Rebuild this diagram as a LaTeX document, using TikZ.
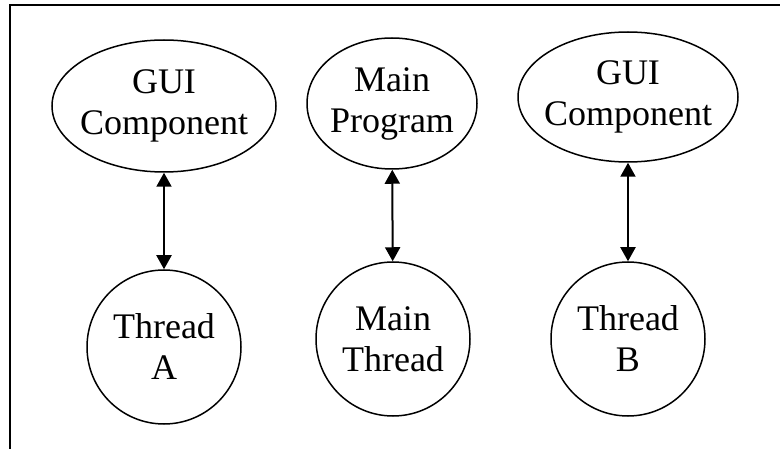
\documentclass[tikz,border=0pt]{standalone}
\usepackage{fontspec}
\setmainfont{Liberation Serif}
\usetikzlibrary{shapes.geometric,arrows.meta}
\tikzset{
 comp/.style={draw,ellipse,line width=1.5pt,inner xsep=-10pt,inner ysep=0pt,align=center},
 thr/.style={draw,circle,line width=1.5pt,minimum size=154pt,inner sep=0pt,align=center},
 link/.style={line width=2pt,{Triangle[length=14pt,width=15pt]}-{Triangle[length=14pt,width=15pt]}}
}
\begin{document}
\begin{tikzpicture}[x=1pt,y=-1pt,font=\fontsize{36}{41}\selectfont]
\useasboundingbox (0,0) rectangle (780,449);
% frame, cut off at the right and bottom
\draw[line width=1.8pt] (10,450)--(10,5)--(781,5);
% upper row
\node[comp,minimum width=224pt,minimum height=132pt] (guiA) at (164,106) {GUI\\Component};
\node[comp,minimum width=170pt,minimum height=131pt] (prog) at (392,103.5) {Main\\Program};
\node[comp,minimum width=220pt,minimum height=130pt] (guiB) at (628,97) {GUI\\Component};
% threads
\node[thr] (thrA) at (164,347) {Thread\\A};
\node[thr] (thrM) at (393,339) {Main\\Thread};
\node[thr] (thrB) at (628,339) {Thread\\B};
\foreach \a/\b in {guiA/thrA,prog/thrM,guiB/thrB}
 \draw[link] (\a) -- (\b);
\end{tikzpicture}
\end{document}
